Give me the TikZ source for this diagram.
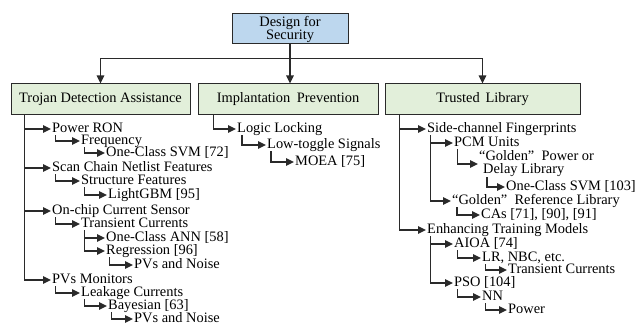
\documentclass[tikz,border=0pt]{standalone}
\usepackage{fontspec}
\setmainfont{Liberation Serif}
\usetikzlibrary{arrows.meta,calc}

\definecolor{topfill}{HTML}{BDD7EE}
\definecolor{catfill}{HTML}{E2EFDA}
\definecolor{edge}{HTML}{2A2A2A}

\tikzset{
  txt/.style={font=\rmfamily\fontsize{14.4}{13}\selectfont},
  box/.style={txt, draw=edge, line width=1pt, inner sep=0pt},
  lbl/.style={txt, anchor=west, inner xsep=1pt, inner ysep=0pt,
              text height=9.4pt, text depth=2.8pt},
  arr/.style={draw=edge, line width=1.3pt,
              -{Triangle[length=8pt,width=7.5pt]}},
}
% elbow connector from a parent label to a child label
\newcommand\elb[3][4.5pt]{\draw[arr] ([xshift=#1]#2.south west) |- (#3.west);}

\begin{document}
\begin{tikzpicture}[x=1pt,y=-1pt]
\useasboundingbox (0,0) rectangle (639,323);

% root and the three categories
\node[box, fill=topfill, minimum width=116pt, minimum height=30pt, align=center]
  (dfs) at (290,29) {Design for\\Security};
\node[box, fill=catfill, minimum width=179pt, minimum height=31pt]
  (tda) at (100.5,99.5) {Trojan Detection Assistance};
\node[box, fill=catfill, minimum width=180pt, minimum height=31pt]
  (ip) at (288,99.5) {Implantation\hspace{.45em}Prevention};
\node[box, fill=catfill, minimum width=195pt, minimum height=31pt]
  (tl) at (482.5,99.5) {Trusted\hspace{.4em}Library};

\coordinate (j) at ($(dfs.south)+(0,14)$);
\draw[arr] (dfs.south) -- (dfs.south |- ip.north);
\draw[arr] (j) -| (tda.north);
\draw[arr] (j) -| (tl.north);

% ---------------- Trojan Detection Assistance ----------------
\coordinate (lt) at ([xshift=14pt]tda.south west);
\node[lbl] (l1)    at (51,129)  {Power RON};
\node[lbl] (l11)   at (80,141)  {Frequency};
\node[lbl] (l111)  at (105,153) {One-Class SVM [72]};
\node[lbl] (l2)    at (51,168)  {Scan Chain Netlist Features};
\node[lbl] (l21)   at (80,181)  {Structure Features};
\node[lbl] (l211)  at (107,195) {LightGBM [95]};
\node[lbl] (l3)    at (51,211)  {On-chip Current Sensor};
\node[lbl] (l31)   at (80,224)  {Transient Currents};
\node[lbl] (l311)  at (105,238) {One-Class ANN [58]};
\node[lbl] (l312)  at (105,251) {Regression [96]};
\node[lbl] (l3121) at (133,265) {PVs and Noise};
\node[lbl] (l4)    at (51,280)  {PVs Monitors};
\node[lbl] (l41)   at (80,293)  {Leakage Currents};
\node[lbl] (l411)  at (107,306) {Bayesian [63]};
\node[lbl] (l4111) at (133,319) {PVs and Noise};

\foreach \c in {l1,l2,l3,l4} \draw[arr] (lt) |- (\c.west);
\elb{l1}{l11}  \elb{l11}{l111}
\elb{l2}{l21}  \elb{l21}{l211}
\elb{l3}{l31}  \elb{l31}{l311} \elb{l31}{l312} \elb{l312}{l3121}
\elb{l4}{l41}  \elb{l41}{l411} \elb{l411}{l4111}

% ---------------- Implantation Prevention ----------------
\coordinate (mt) at ([xshift=16pt]ip.south west);
\node[lbl] (m1)   at (236,129) {Logic Locking};
\node[lbl] (m11)  at (266,145) {Low-toggle Signals};
\node[lbl] (m111) at (294,162) {MOEA [75]};
\draw[arr] (mt) |- (m1.west);
\elb[6pt]{m1}{m11}
\elb[5pt]{m11}{m111}

% ---------------- Trusted Library ----------------
\coordinate (rt) at ([xshift=15pt]tl.south west);
\node[lbl] (r1)    at (426,129) {Side-channel Fingerprints};
\node[lbl] (r11)   at (453,143) {PCM Units};
\node[txt, anchor=west, inner xsep=1pt, inner ysep=0pt, align=left]
           (r111)  at (478,164) {“Golden”\hspace{.5em}Power or\\\hspace*{4pt}Delay Library};
\node[lbl] (r1111) at (505,187) {One-Class SVM [103]};
\node[lbl] (r12)   at (451,201) {“Golden”\hspace{.5em}Reference Library};
\node[lbl] (r121)  at (480,215) {CAs [71], [90], [91]};
\node[lbl] (r2)    at (426,230) {Enhancing Training Models};
\node[lbl] (r21)   at (453,244) {AIOA [74]};
\node[lbl] (r211)  at (481,258) {LR, NBC, etc.};
\node[lbl] (r2111) at (507,270) {Transient Currents};
\node[lbl] (r22)   at (453,283) {PSO [104]};
\node[lbl] (r221)  at (481,297) {NN};
\node[lbl] (r2211) at (507,310) {Power};

\foreach \c in {r1,r2} \draw[arr] (rt) |- (\c.west);
\elb{r1}{r11} \elb{r1}{r12}
\elb{r11}{r111}
\elb[9pt]{r111}{r1111}
\elb[6pt]{r12}{r121}
\elb{r2}{r21} \elb{r2}{r22}
\elb{r21}{r211} \elb{r211}{r2111}
\elb{r22}{r221} \elb{r221}{r2211}
\end{tikzpicture}
\end{document}
